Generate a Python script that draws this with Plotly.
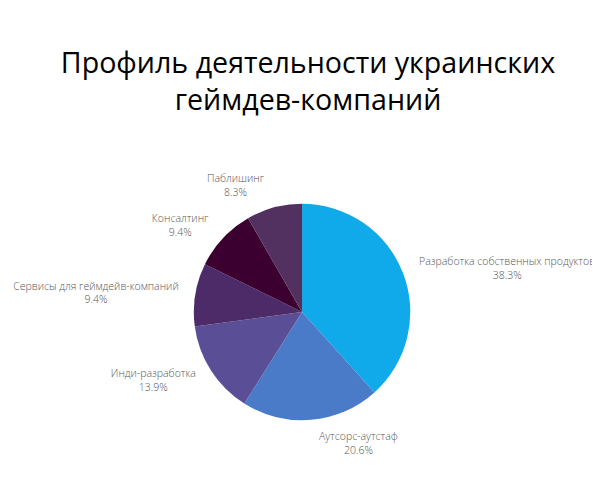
import plotly.graph_objects as go

labels = ['Разработка собственных продуктов', 'Аутсорс-аутстаф', 'Инди-разработка',
          'Сервисы для геймдейв-компаний', 'Консалтинг', 'Паблишинг']
shares = [38.3, 20.6, 13.9, 9.4, 9.4, 8.3]
colors = ['#10a9ea', '#4a7bc8', '#5a4f96', '#4d2a68', '#3c0030', '#52305f']

# pie position (fractions of the 600x500 page)
px0, px1 = 0.292, 0.662
py0, py1 = 0.170, 0.614
# labels ride on a slightly larger, invisible pie so they sit further out
gx, gy = 10 / 600, 10 / 500

fig = go.Figure()

fig.add_trace(go.Pie(
    labels=labels,
    values=shares,
    sort=False,
    direction='clockwise',
    rotation=0,
    marker=dict(colors=['rgba(0,0,0,0)'] * len(labels), line=dict(width=0)),
    texttemplate='%{label}<br>%{value:.1f}%',
    textposition='outside',
    textfont=dict(family='Open Sans', size=10.5, color='#555555', weight=300),
    domain=dict(x=[px0 - gx, px1 + gx], y=[py0 - gy, py1 + gy]),
    showlegend=False,
    hoverinfo='skip',
))

fig.add_trace(go.Pie(
    labels=labels,
    values=shares,
    sort=False,
    direction='clockwise',
    rotation=0,
    marker=dict(colors=colors, line=dict(width=0)),
    textinfo='none',
    domain=dict(x=[px0, px1], y=[py0, py1]),
    showlegend=False,
    hoverinfo='label+percent',
))

fig.update_layout(
    width=600, height=500,
    margin=dict(l=0, r=0, t=0, b=0),
    paper_bgcolor='white',
    title=dict(
        text='Профиль деятельности украинских<br>геймдев-компаний',
        x=0.5, xanchor='center', y=0.870, yanchor='top',
        font=dict(family='Open Sans', size=28.6, color='#000000'),
    ),
)

fig.write_html('out.html')
